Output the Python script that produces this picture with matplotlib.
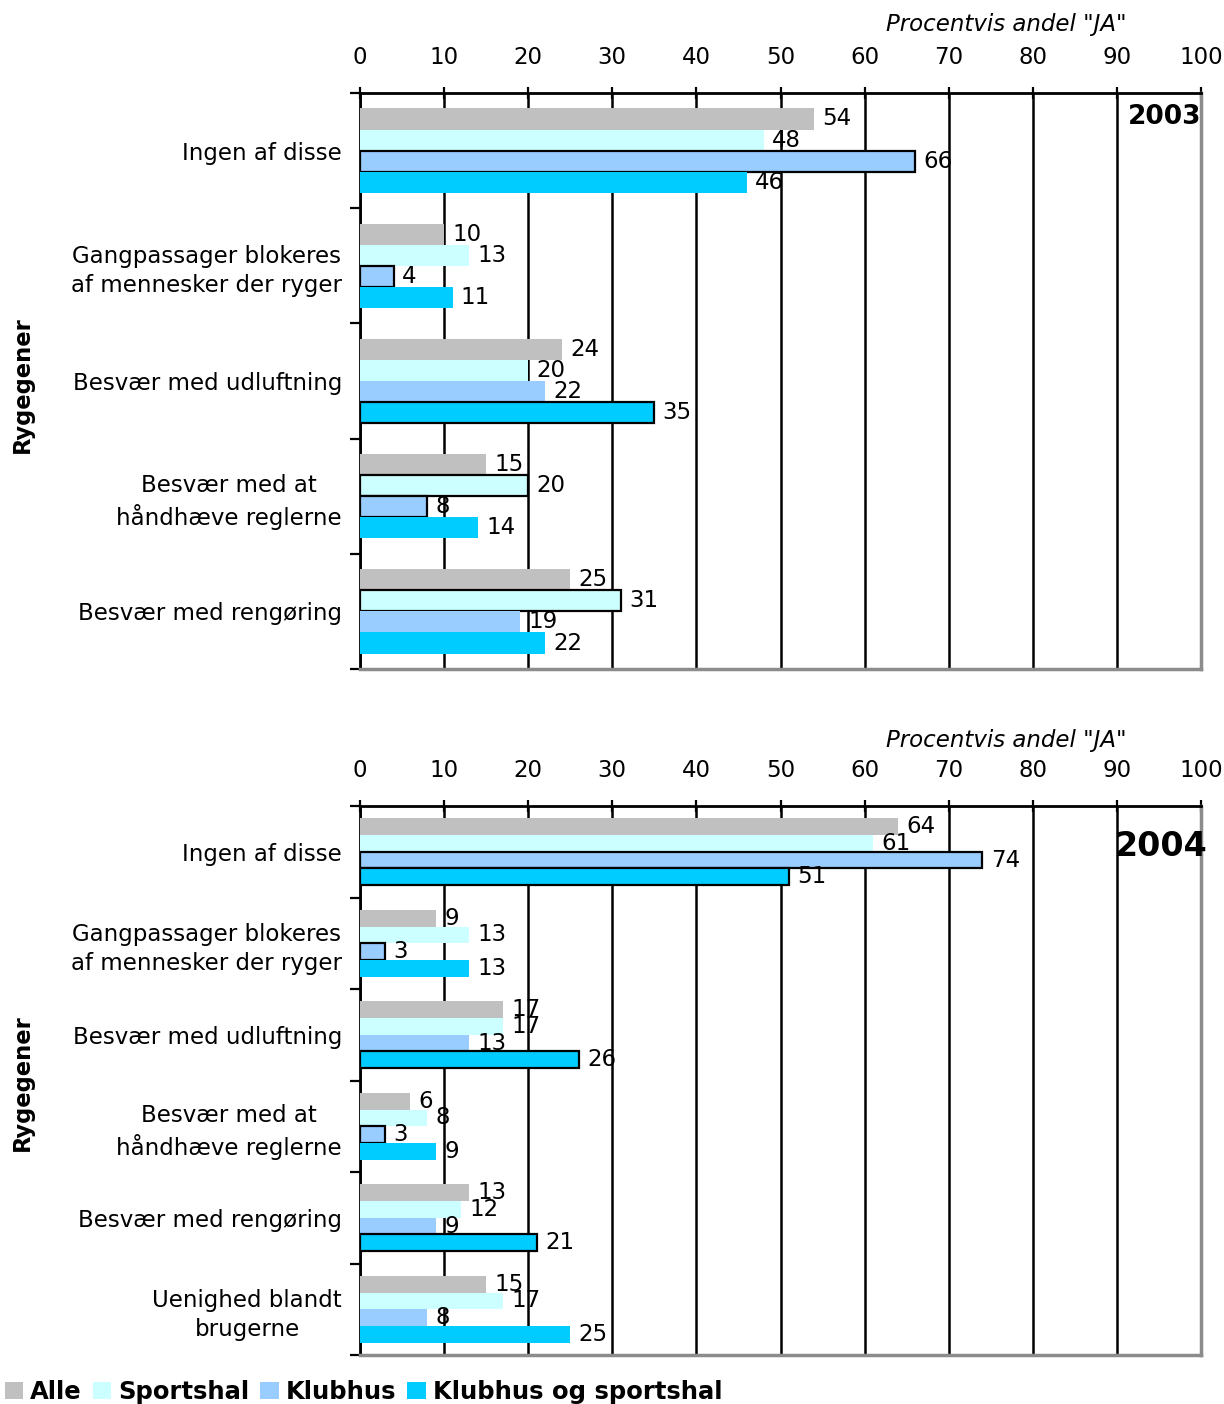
import numpy as np
import matplotlib
matplotlib.use("Agg")
import matplotlib.pyplot as plt
from matplotlib.patches import Patch

plt.rcParams["font.family"] = ["DejaVu Sans"]

SERIES = ["Alle", "Sportshal", "Klubhus", "Klubhus og sportshal"]
COLORS = ["#c0c0c0", "#ccffff", "#99ccff", "#00ccff"]

CATS_2003 = ["Ingen af disse",
             "Gangpassager blokeres\naf mennesker der ryger",
             "Besvær med udluftning",
             "Besvær med at\nhåndhæve reglerne",
             "Besvær med rengøring"]
VALS_2003 = [[54, 10, 24, 15, 25],   # Alle
             [48, 13, 20, 20, 31],   # Sportshal
             [66, 4, 22, 8, 19],     # Klubhus
             [46, 11, 35, 14, 22]]   # Klubhus og sportshal
EDGE_2003 = [[0, 0, 0, 0, 0],
             [0, 0, 0, 1, 1],
             [1, 1, 0, 1, 0],
             [0, 0, 1, 0, 0]]

CATS_2004 = ["Ingen af disse",
             "Gangpassager blokeres\naf mennesker der ryger",
             "Besvær med udluftning",
             "Besvær med at\nhåndhæve reglerne",
             "Besvær med rengøring",
             "Uenighed blandt\nbrugerne"]
VALS_2004 = [[64, 9, 17, 6, 13, 15],
             [61, 13, 17, 8, 12, 17],
             [74, 3, 13, 3, 9, 8],
             [51, 13, 26, 9, 21, 25]]
EDGE_2004 = [[0, 0, 0, 0, 0, 0],
             [0, 0, 0, 0, 0, 0],
             [1, 1, 0, 1, 0, 0],
             [1, 0, 1, 0, 1, 0]]

XTICKS = list(range(0, 101, 10))

W, H = 1224, 1404
fig = plt.figure(figsize=(W / 100, H / 100), dpi=100)


def px_axes(left, top, right, bottom):
    return fig.add_axes([left / W, 1 - bottom / H, (right - left) / W, (bottom - top) / H])


def panel(ax, cats, vals, edges, year, year_size, year_x, year_y):
    n = len(cats)
    h = 0.183
    y = np.arange(n)
    for s in range(4):
        pos = y + (s - 1.5) * h
        for i in range(n):
            ec = "black" if edges[s][i] else "none"
            ax.barh(pos[i], vals[s][i], height=h, color=COLORS[s], edgecolor=ec,
                    linewidth=1.6, zorder=3)
            ax.annotate(str(vals[s][i]), (vals[s][i], pos[i]), xytext=(6, 0),
                        textcoords="offset points", va="center", ha="left",
                        fontsize=16.5, zorder=5)
    ax.set_xlim(0, 100)
    ax.set_ylim(n - 0.5, -0.5)
    ax.set_xticks(XTICKS)
    ax.xaxis.tick_top()
    ax.tick_params(axis="x", direction="inout", length=9, width=1.6,
                   labelsize=16.5, pad=13)
    ax.set_yticks(y)
    ax.set_yticklabels(cats, multialignment="center", linespacing=1.32)
    ax.tick_params(axis="y", which="major", length=0, labelsize=16.5, pad=13)
    ax.set_yticks(np.arange(n + 1) - 0.5, minor=True)
    ax.tick_params(axis="y", which="minor", direction="out", length=7, width=1.6)
    ax.grid(axis="x", color="black", linewidth=1.8, zorder=0)
    ax.set_axisbelow(True)
    for side in ["top", "left"]:
        ax.spines[side].set_linewidth(2)
        ax.spines[side].set_color("black")
    for side in ["right", "bottom"]:
        ax.spines[side].set_linewidth(2.5)
        ax.spines[side].set_color("#8c8c8c")
    ax.spines["top"].set_zorder(6)
    ax.text(year_x, year_y, year, transform=ax.transAxes, ha="right", va="center",
            fontsize=year_size, fontweight="bold", zorder=6)


ax1 = px_axes(360, 93, 1201, 669)
panel(ax1, CATS_2003, VALS_2003, EDGE_2003, "2003", 19, 1.0, 0.958)
ax2 = px_axes(360, 806, 1201, 1355)
panel(ax2, CATS_2004, VALS_2004, EDGE_2004, "2004", 24, 1.007, 0.927)

fig.text(1127 / W, 1 - 25 / H, 'Procentvis andel "JA"', ha="right", va="center",
         fontsize=16.5, style="italic")
fig.text(1127 / W, 1 - 740 / H, 'Procentvis andel "JA"', ha="right", va="center",
         fontsize=16.5, style="italic")
fig.text(22 / W, 1 - 385 / H, "Rygegener", rotation=90, ha="center", va="center",
         fontsize=16.3, fontweight="bold")
fig.text(22 / W, 1 - 1083 / H, "Rygegener", rotation=90, ha="center", va="center",
         fontsize=16.3, fontweight="bold")

handles = [Patch(facecolor=c, edgecolor="none") for c in COLORS]
fig.legend(handles, SERIES, loc="center left", bbox_to_anchor=(-0.004, 1 - 1392 / H),
           ncol=4, frameon=False, handlelength=0.75, handleheight=0.75,
           handletextpad=0.3, columnspacing=0.45, borderaxespad=0,
           prop={"weight": "bold", "size": 17.5})

fig.savefig("out.png", dpi=100)
